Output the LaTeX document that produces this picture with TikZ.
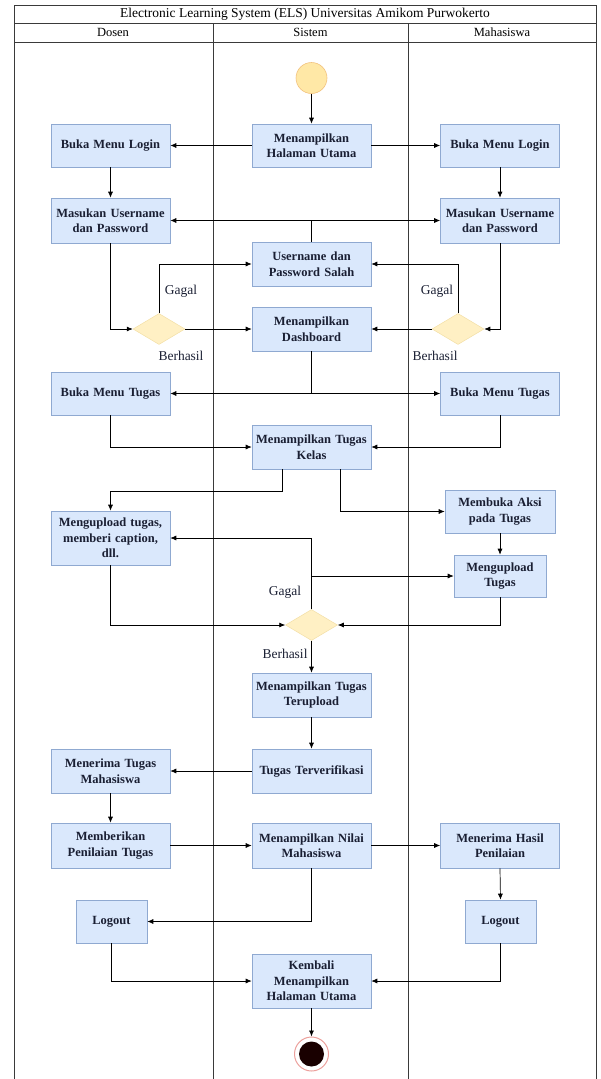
\documentclass[tikz,border=0pt]{standalone}
\usepackage{fontspec}
\setmainfont{Liberation Serif}
\usetikzlibrary{shapes.geometric,arrows.meta}
\definecolor{boxfill}{HTML}{DAE8FC}
\definecolor{boxline}{HTML}{8FA9D1}
\definecolor{dfill}{HTML}{FFF0C4}
\definecolor{dline}{HTML}{F3DFA6}
\definecolor{sfill}{HTML}{FFE8A6}
\definecolor{sline}{HTML}{F2C27E}
\definecolor{txt}{HTML}{1A1F33}
\definecolor{lane}{HTML}{3A3A3A}
\definecolor{ring}{HTML}{E0605A}
\begin{document}
\begin{tikzpicture}[x=1pt,y=-1pt,
  actbox/.style={draw=boxline,fill=boxfill,line width=0.6pt,inner sep=1pt,
    minimum width=119pt,minimum height=43pt,text width=116pt,align=center,
    font=\fontsize{12.5}{15.5}\selectfont\bfseries,text=txt},
  dec/.style={diamond,draw=dline,fill=dfill,line width=0.5pt,inner sep=0pt,
    minimum width=52pt,minimum height=31pt},
  lbl/.style={font=\fontsize{13.5}{15}\selectfont,text=txt,inner sep=0pt},
  hdr/.style={font=\fontsize{12.5}{14}\selectfont,text=black,inner sep=0pt},
  arr/.style={draw=black,line width=0.7pt,-{Latex[length=6pt,width=5pt]}},
  ln/.style={draw=black,line width=0.7pt}]
\useasboundingbox (0,0) rectangle (600,1079);
% frame
\draw[lane,line width=0.8pt] (14,1079) -- (14,5) -- (596,5) -- (596,1079);
\draw[lane,line width=0.8pt] (14,23) -- (596,23);
\draw[lane,line width=0.8pt] (14,42) -- (596,42);
\draw[lane,line width=0.8pt] (213,23) -- (213,1079);
\draw[lane,line width=0.8pt] (408,23) -- (408,1079);
\node[hdr,font=\fontsize{13.5}{15}\selectfont] (title) at (305,14) {Electronic Learning System (ELS) Universitas Amikom Purwokerto};
\node[hdr] (hdosen) at (113,32.5) {Dosen};
\node[hdr] (hsistem) at (310.5,32.5) {Sistem};
\node[hdr] (hmhs) at (502,32.5) {Mahasiswa};
% nodes
\node[circle,draw=sline,fill=sfill,line width=0.6pt,minimum size=31pt,inner sep=0pt] (start) at (311.5,78) {};
\node[actbox] (halaman) at (311.5,145.5) {Menampilkan\\Halaman Utama};
\node[actbox] (loginL) at (110.5,145.5) {Buka Menu Login};
\node[actbox] (loginR) at (500,145.5) {Buka Menu Login};
\node[actbox,minimum height=45pt] (masukL) at (110.5,220.5) {Masukan Username\\dan Password};
\node[actbox,minimum height=45pt] (masukR) at (500,220.5) {Masukan Username\\dan Password};
\node[actbox,minimum height=44pt] (salah) at (311.5,264) {Username dan\\Password Salah};
\node[dec] (dL) at (159,329) {};
\node[dec] (dR) at (458,329) {};
\node[actbox,minimum height=44pt] (dash) at (311.5,329) {Menampilkan\\Dashboard};
\node[actbox] (tugasL) at (110.5,393.5) {Buka Menu Tugas};
\node[actbox] (tugasR) at (500,393.5) {Buka Menu Tugas};
\node[actbox,minimum height=44pt] (kelas) at (311.5,447) {Menampilkan Tugas\\Kelas};
\node[actbox,minimum height=54pt] (uplL) at (110.5,538) {Mengupload tugas,\\memberi caption,\\dll.};
\node[actbox,minimum width=110pt,text width=107pt] (aksi) at (500,511.5) {Membuka Aksi\\pada Tugas};
\node[actbox,minimum width=92pt,text width=89pt,minimum height=42pt] (uplR) at (500,576) {Mengupload\\Tugas};
\node[dec] (d3) at (311.5,625) {};
\node[actbox,minimum height=44pt] (terupload) at (311.5,695) {Menampilkan Tugas\\Terupload};
\node[actbox,minimum height=44pt] (verif) at (311.5,771) {Tugas Terverifikasi};
\node[actbox,minimum height=44pt] (terima) at (110.5,771) {Menerima Tugas\\Mahasiswa};
\node[actbox,minimum height=45pt] (beri) at (110.5,845.5) {Memberikan\\Penilaian Tugas};
\node[actbox,minimum height=45pt] (nilai) at (311.5,845.5) {Menampilkan Nilai\\Mahasiswa};
\node[actbox,minimum height=45pt] (hasil) at (500,845.5) {Menerima Hasil\\Penilaian};
\node[actbox,minimum width=71pt,text width=68pt] (logoutL) at (111.5,921.5) {Logout};
\node[actbox,minimum width=71pt,text width=68pt] (logoutR) at (500.5,921.5) {Logout};
\node[actbox,minimum height=54pt] (kembali) at (311.5,981) {Kembali\\Menampilkan\\Halaman Utama};
\node[circle,draw=ring!60,fill=white,line width=1pt,minimum size=34pt,inner sep=0pt] (end) at (311.5,1054) {};
\node[circle,fill=black!90!red,minimum size=25pt,inner sep=0pt] (endin) at (end.center) {};
% labels
\node[lbl] (g1) at (181,291) {Gagal};
\node[lbl] (b1) at (181,356) {Berhasil};
\node[lbl] (g2) at (437,291) {Gagal};
\node[lbl] (b2) at (435,356) {Berhasil};
\node[lbl] (g3) at (285,592) {Gagal};
\node[lbl] (b3) at (285,654) {Berhasil};
% edges
\draw[arr] (start) -- (halaman);
\draw[arr] (halaman) -- (loginL);
\draw[arr] (halaman) -- (loginR);
\draw[arr] (loginL) -- (masukL);
\draw[arr] (loginR) -- (masukR);
\draw[arr] (salah.north) |- (masukL.east);
\draw[arr] (salah.north) |- (masukR.west);
\draw[arr] (masukL.south) |- (dL.west);
\draw[arr] (masukR.south) |- (dR.east);
\draw[arr] (dL.north) |- (salah.west);
\draw[arr] (dR.north) |- (salah.east);
\draw[arr] (dL.east) -- (dash.west);
\draw[arr] (dR.west) -- (dash.east);
\draw[arr] (dash.south) |- (tugasL.east);
\draw[arr] (dash.south) |- (tugasR.west);
\draw[arr] (tugasL.south) |- (kelas.west);
\draw[arr] (tugasR.south) |- (kelas.east);
\draw[arr] ([xshift=-29.5pt]kelas.south) -- ++(0,22) -| (uplL.north);
\draw[arr] ([xshift=28.5pt]kelas.south) |- (aksi.west);
\draw[arr] (aksi) -- (uplR);
\coordinate (j3) at (d3.north |- uplL.east);
\draw[ln] (d3.north) -- (j3);
\draw[arr] (j3) -- (uplL.east);
\draw[arr] (d3.north |- uplR.west) -- (uplR.west);
\draw[arr] (uplL.south) |- (d3.west);
\draw[arr] (uplR.south) |- (d3.east);
\draw[arr] (d3.south) -- (terupload.north);
\draw[arr] (terupload) -- (verif);
\draw[arr] (verif) -- (terima);
\draw[arr] (terima) -- (beri);
\draw[arr] (beri) -- (nilai);
\draw[arr] (nilai) -- (hasil);
\draw[arr] (hasil.south) -- (logoutR.north);
\draw[arr] (nilai.south) |- (logoutL.east);
\draw[arr] (logoutL.south) |- (kembali.west);
\draw[arr] (logoutR.south) |- (kembali.east);
\draw[arr] (kembali) -- (end);
\end{tikzpicture}
\end{document}
